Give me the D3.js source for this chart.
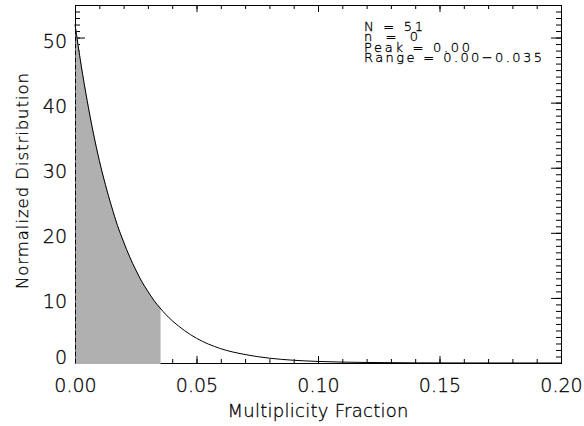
<!DOCTYPE html>
<html>
<head>
<meta charset="utf-8">
<script src="https://cdn.jsdelivr.net/npm/d3@7"></script>
<style>
  body { margin: 0; background: #fff; }
  svg text { font-family: "DejaVu Sans", sans-serif; font-weight: 300; fill: #000; stroke: #000; stroke-width: 0.3px; }
</style>
</head>
<body>
<div id="chart"></div>
<script>
const width = 584
const height = 426

// multiplicity fraction samples and normalized distribution
const fraction = [0, 0.0025, 0.005, 0.0075, 0.01, 0.0125, 0.015, 0.0175, 0.02, 0.0225,
  0.025, 0.0275, 0.03, 0.0325, 0.035, 0.0375, 0.04, 0.045, 0.05, 0.06, 0.07, 0.08,
  0.09, 0.10, 0.12, 0.14, 0.16, 0.18, 0.20]
const distribution = [52.0, 45.8, 40.3, 35.4, 31.1, 27.4, 24.1, 21.1, 18.6, 16.3,
  14.3, 12.5, 11.0, 9.6, 8.45, 7.4, 6.5, 5.0, 3.8, 2.2, 1.3, 0.74,
  0.42, 0.24, 0.08, 0.024, 0.007, 0.002, 0.0006]

const peak = 0.00
const range = [0.00, 0.035]

const xMajorTicks = [0, 0.05, 0.10, 0.15, 0.20]
const xMinorTicks = d3.range(0, 21).map(d => d / 100)
const yMajorTicks = [0, 10, 20, 30, 40, 50]
const yMinorTicks = d3.range(0, 56)

const infoLines = ["N = 51", "n = 0", "Peak = 0.00", "Range = 0.00\u22120.035"]
const infoWidths = [59, 54, 106, 178]

const xTitle = "Multiplicity Fraction"
const yTitle = "Normalized Distribution"

const points = fraction.map((f, i) => ({ x: f, y: distribution[i] }))
const shaded = points.filter(d => d.x >= range[0] && d.x <= range[1])

const svg = d3.select("#chart")
  .append("svg")
  .attr("width", width)
  .attr("height", height)

const x = d3.scaleLinear().domain([0, 0.2]).range([75, 561])
const y = d3.scaleLinear().domain([0, 55]).range([363, 5])

// frame
svg.append("rect")
  .attr("x", x(0) + 0.5)
  .attr("y", y(55) + 0.5)
  .attr("width", x(0.2) - x(0))
  .attr("height", y(0) - y(55))
  .attr("fill", "none")
  .attr("stroke", "#000")
  .attr("stroke-width", 1)

function ticks(axis, g) {
  g.call(axis)
  g.select(".domain").remove()
  g.selectAll(".tick line").attr("stroke", "#000")
}

// bottom axis
const bottomMajor = svg.append("g").attr("transform", `translate(0,${y(0)})`)
ticks(d3.axisBottom(x).tickValues(xMajorTicks).tickSize(-7).tickPadding(16)
  .tickFormat(d3.format(".2f")), bottomMajor)
bottomMajor.selectAll("text").attr("font-size", 19).attr("font-family", null)
const bottomMinor = svg.append("g").attr("transform", `translate(0,${y(0)})`)
ticks(d3.axisBottom(x).tickValues(xMinorTicks).tickSize(-4).tickFormat(""), bottomMinor)

// top axis
const topMajor = svg.append("g").attr("transform", `translate(0,${y(55)})`)
ticks(d3.axisTop(x).tickValues(xMajorTicks).tickSize(-7).tickFormat(""), topMajor)
const topMinor = svg.append("g").attr("transform", `translate(0,${y(55)})`)
ticks(d3.axisTop(x).tickValues(xMinorTicks).tickSize(-4).tickFormat(""), topMinor)

// left axis
const leftMajor = svg.append("g").attr("transform", `translate(${x(0)},0)`)
ticks(d3.axisLeft(y).tickValues(yMajorTicks).tickSize(-10).tickPadding(8)
  .tickFormat(d3.format("d")), leftMajor)
leftMajor.selectAll("text")
  .attr("font-size", 19)
  .attr("font-family", null)
  .attr("dy", d => d === 0 ? "0em" : "0.53em")
const leftMinor = svg.append("g").attr("transform", `translate(${x(0)},0)`)
ticks(d3.axisLeft(y).tickValues(yMinorTicks).tickSize(-5).tickFormat(""), leftMinor)

// right axis
const rightMajor = svg.append("g").attr("transform", `translate(${x(0.2)},0)`)
ticks(d3.axisRight(y).tickValues(yMajorTicks).tickSize(-10).tickFormat(""), rightMajor)
const rightMinor = svg.append("g").attr("transform", `translate(${x(0.2)},0)`)
ticks(d3.axisRight(y).tickValues(yMinorTicks).tickSize(-5).tickFormat(""), rightMinor)

// shaded range under the curve, drawn over the axes like the original
const area = d3.area()
  .x(d => x(d.x) + 0.5)
  .y0(y(0) + 1)
  .y1(d => y(d.y))
  .curve(d3.curveMonotoneX)

svg.append("path")
  .datum(shaded)
  .attr("d", area)
  .attr("fill", "#b0b0b0")

// peak marker
svg.append("line")
  .attr("x1", x(peak) + 0.5)
  .attr("x2", x(peak) + 0.5)
  .attr("y1", y(0))
  .attr("y2", y(distribution[0]))
  .attr("stroke", "#000")
  .attr("stroke-dasharray", "4,3")

// distribution curve
const line = d3.line()
  .x(d => x(d.x))
  .y(d => y(d.y))
  .curve(d3.curveMonotoneX)

svg.append("path")
  .datum(points)
  .attr("d", line)
  .attr("fill", "none")
  .attr("stroke", "#000")
  .attr("stroke-width", 1)

// annotation block
const infoY = [30.5, 41, 51.5, 62]
svg.append("g")
  .selectAll("text")
  .data(infoLines)
  .join("text")
  .attr("x", 364)
  .attr("y", (d, i) => infoY[i])
  .attr("font-size", 13)
  .attr("textLength", (d, i) => infoWidths[i])
  .attr("lengthAdjust", "spacing")
  .text(d => d)

// axis titles
svg.append("text")
  .attr("x", 318)
  .attr("y", 416.5)
  .attr("text-anchor", "middle")
  .attr("font-size", 18)
  .attr("textLength", 181)
  .attr("lengthAdjust", "spacing")
  .text(xTitle)

svg.append("text")
  .attr("transform", `translate(27.5,181) rotate(-90)`)
  .attr("text-anchor", "middle")
  .attr("font-size", 16.5)
  .attr("textLength", 216)
  .attr("lengthAdjust", "spacing")
  .text(yTitle)
</script>
</body>
</html>
